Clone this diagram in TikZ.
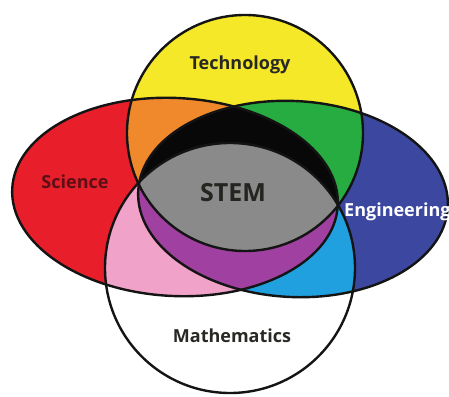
\documentclass[tikz,border=0pt]{standalone}
\usepackage{fontspec}
\setmainfont{Open Sans}
\definecolor{cyel}{RGB}{244,232,40}
\definecolor{cora}{RGB}{240,136,44}
\definecolor{cgre}{RGB}{38,172,64}
\definecolor{cred}{RGB}{232,30,42}
\definecolor{cblu}{RGB}{60,72,160}
\definecolor{cpnk}{RGB}{240,162,200}
\definecolor{cpur}{RGB}{160,64,160}
\definecolor{ccya}{RGB}{32,160,222}
\definecolor{cgry}{RGB}{138,138,138}
\definecolor{cblk}{RGB}{8,8,8}
\definecolor{cline}{RGB}{20,20,20}
\definecolor{ctxt}{RGB}{40,40,36}
\definecolor{csci}{RGB}{92,16,22}
\begin{document}
\begin{tikzpicture}[x=1pt,y=-1pt,
  pS/.style={rotate around={-3:(175,197)}, insert path={(175,197) ellipse [x radius=163pt, y radius=99pt]}},
  pE/.style={rotate around={-3:(293,199)}, insert path={(293,199) ellipse [x radius=155pt, y radius=98pt]}},
  pT/.style={insert path={(245,133) circle [radius=118pt]}},
  pM/.style={insert path={(230,268) circle [radius=125pt]}},
  outline/.style={draw=cline, line width=2.4pt},
  lab/.style={font=\bfseries\fontsize{18}{20}\selectfont, inner sep=0pt, text=ctxt}]
\useasboundingbox (0,0) rectangle (449,396);
\fill[white] (0,0) rectangle (449,396);
\clip (0,0) rectangle (449,396);
% base regions
\fill[cred, pS];
\fill[cblu, pE];
\fill[cyel, pT];
\fill[white, pM];
% pairwise
\begin{scope}
  \clip[pS];
  \fill[cora, pT];
  \fill[cpnk, pM];
\end{scope}
\begin{scope}
  \clip[pE];
  \fill[cgre, pT];
  \fill[ccya, pM];
\end{scope}
% triples
\begin{scope}
  \clip[pS];
  \clip[pE];
  \fill[cblk, pT];
  \fill[cpur, pM];
\end{scope}
% all four
\begin{scope}
  \clip[pT];
  \fill[cgry, pM];
\end{scope}
% outlines
\draw[outline, pS];
\draw[outline, pE];
\draw[outline, pT];
\draw[outline, pM];
% labels
\node[lab] (tech) at (240,65) {Technology};
\node[lab, text=csci] (sci) at (75,182) {Science};
\node[lab, font=\bfseries\fontsize{25}{28}\selectfont, text=ctxt!90!black] (stem) at (233,193) {STEM};
\node[lab, text=white, anchor=west] (eng) at (344,212) {Engineering};
\node[lab] (math) at (232,336) {Mathematics};
\end{tikzpicture}
\end{document}
